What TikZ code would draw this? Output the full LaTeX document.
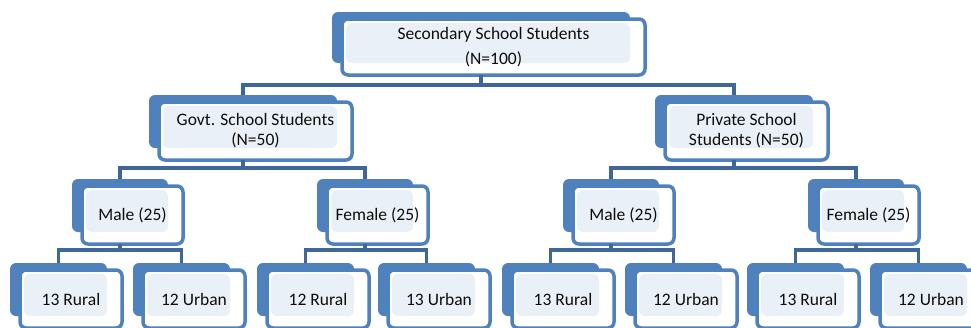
\documentclass[tikz,border=0pt]{standalone}
\usepackage{fontspec}
\setmainfont{Carlito}
\definecolor{bb}{HTML}{4F81BD}
\definecolor{lf}{HTML}{EAF0F8}
\definecolor{cc}{HTML}{3F6698}
\definecolor{txt}{HTML}{0D0D0D}
\newcommand\myblock[6]{%
  \node[backbox, minimum width=#4pt, minimum height=#5pt] (#1b) at (#2,#3) {};
  \node[frontbox, minimum width=#4pt+5pt, minimum height=#5pt+5pt] (#1) at (#2+10,#3+7) {#6};}
\begin{document}
\begin{tikzpicture}[x=1pt,y=-1pt,
  backbox/.style={fill=bb, rounded corners=6pt, inner sep=0pt, outer sep=0pt, anchor=north west},
  frontbox/.style={draw=bb, line width=3.5pt, fill=white, rounded corners=6pt, inner sep=0pt,
    outer sep=0pt, anchor=north west, align=center, font=\fontsize{17.5}{20}\selectfont, text=txt,
    path picture={\fill[lf] ([shift={(4pt,-4pt)}]path picture bounding box.north west)
      rectangle ([shift={(-15pt,12pt)}]path picture bounding box.south east);}},
  conn/.style={draw=cc, line width=3.2pt, line join=miter}]
\useasboundingbox (0,0) rectangle (971,327);
\clip (0,0) rectangle (971,327);
\coordinate (y0) at (0,85);
\coordinate (y1) at (0,168);
\coordinate (y2) at (0,250);
% level 0
\myblock{top}{332}{12}{298}{51}{Secondary School Students\\[5pt](N=100)}
% level 1
\myblock{gov}{149}{95}{188}{53}{Govt. School Students\\(N=50)}
\myblock{pri}{655}{95}{158}{53}{Private School\\Students (N=50)}
% level 2
\myblock{ma}{72}{179}{96}{53}{Male (25)}
\myblock{fa}{317}{179}{96}{53}{Female (25)}
\myblock{mb}{563}{179}{96}{53}{Male (25)}
\myblock{fb}{808}{179}{96}{53}{Female (25)}
% level 3
\myblock{la}{10}{263}{97}{53}{13 Rural}
\myblock{lb}{133}{263}{97}{53}{12 Urban}
\myblock{lc}{257}{263}{97}{53}{12 Rural}
\myblock{ld}{378}{263}{97}{53}{13 Urban}
\myblock{le}{502}{263}{97}{53}{13 Rural}
\myblock{lf}{625}{263}{97}{53}{12 Urban}
\myblock{lg}{747}{263}{97}{53}{13 Rural}
\myblock{lh}{870}{263}{97}{53}{12 Urban}
% connectors
\draw[conn] (topb.south |- top.south) -- (topb.south |- y0);
\draw[conn] (govb.north) |- (topb.south |- y0) -| (prib.north);
\draw[conn] (govb.south |- gov.south) -- (govb.south |- y1);
\draw[conn] (mab.north) |- (govb.south |- y1) -| (fab.north);
\draw[conn] (prib.south |- pri.south) -- (prib.south |- y1);
\draw[conn] (mbb.north) |- (prib.south |- y1) -| (fbb.north);
\draw[conn] (mab.south |- ma.south) -- (mab.south |- y2);
\draw[conn] (lab.north) |- (mab.south |- y2) -| (lbb.north);
\draw[conn] (fab.south |- fa.south) -- (fab.south |- y2);
\draw[conn] (lcb.north) |- (fab.south |- y2) -| (ldb.north);
\draw[conn] (mbb.south |- mb.south) -- (mbb.south |- y2);
\draw[conn] (leb.north) |- (mbb.south |- y2) -| (lfb.north);
\draw[conn] (fbb.south |- fb.south) -- (fbb.south |- y2);
\draw[conn] (lgb.north) |- (fbb.south |- y2) -| (lhb.north);
\end{tikzpicture}
\end{document}
